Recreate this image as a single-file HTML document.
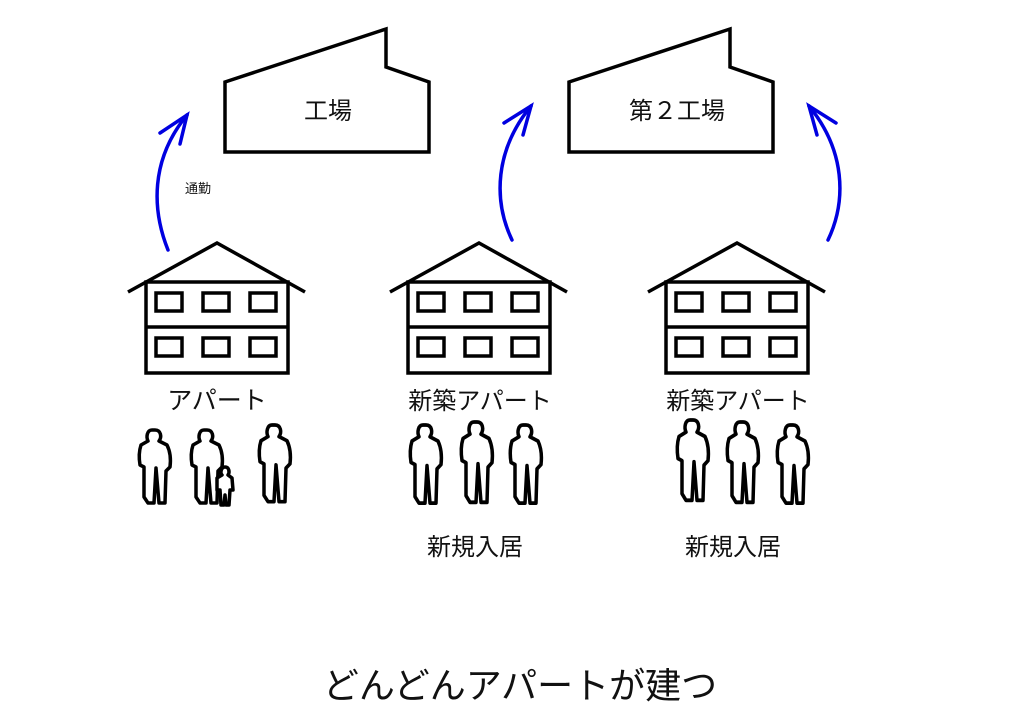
<!DOCTYPE html>
<html><head><meta charset="utf-8"><style>
html,body{margin:0;padding:0;background:#fff;}
svg{display:block}
text{font-family:"Liberation Sans","Noto Sans CJK JP",sans-serif;fill:#111}
</style></head><body>
<svg width="1024" height="724" viewBox="0 0 1024 724" xmlns="http://www.w3.org/2000/svg">
<defs>
<g id="house" fill="none" stroke="#000" stroke-width="3.5">
<polyline points="128,292 217,243 305,292"/>
<rect x="146" y="282" width="142" height="91" fill="#fff"/>
<line x1="146" y1="327" x2="288" y2="327"/>
<rect x="156" y="293" width="26" height="18"/><rect x="203" y="293" width="26" height="18"/><rect x="250" y="293" width="26" height="18"/>
<rect x="156" y="338" width="26" height="18"/><rect x="203" y="338" width="26" height="18"/><rect x="250" y="338" width="26" height="18"/>
</g>
<g id="factory">
<polygon points="225,82 386,29 386,67 429,82 429,152 225,152" fill="#fff" stroke="#000" stroke-width="3.5"/>
</g>
<g id="p" fill="#fff" stroke="#000" stroke-width="3.5" stroke-linejoin="round">
<path d="M0,0 c-5,0 -6,7 -4,11 l-7,4 c-2,6 -2,14 -1,20 l4,2 l0,30 l4,6 l6,0 l2,-35 l3,35 l6,0 l1,-32 l4,-4 c1,-8 0,-16 -3,-22 l-8,-4 c3,-4 2,-11 -4,-11z"/>
</g>
</defs>
<use href="#factory"/>
<use href="#factory" transform="translate(344,0)"/>
<text x="328" y="119" font-size="24" text-anchor="middle">工場</text>
<text x="677" y="119" font-size="24" text-anchor="middle">第２工場</text>
<g fill="none" stroke="#0000e0" stroke-width="3.5" stroke-linecap="round">
<path d="M168,250 C152,210 150,160 187,115"/><polyline points="160,133 187,115 180,144"/>
<path d="M512,240 C493,200 495,150 531,106"/><polyline points="504,123 531,106 523,135"/>
<path d="M828,240 C847,200 845,150 809,106"/><polyline points="836,123 809,106 817,135"/>
</g>
<text x="185" y="193" font-size="13">通勤</text>
<use href="#house"/>
<use href="#house" transform="translate(262,0)"/>
<use href="#house" transform="translate(520,0)"/>
<text x="217" y="409" font-size="25" text-anchor="middle">アパート</text>
<text x="480" y="409" font-size="24" text-anchor="middle">新築アパート</text>
<text x="738" y="409" font-size="24" text-anchor="middle">新築アパート</text>
<use href="#p" transform="translate(152,430)"/>
<use href="#p" transform="translate(204,430)"/>
<use href="#p" transform="translate(272,425) scale(1,1.05)"/>
<g fill="#fff" stroke="#000" stroke-width="3.5" stroke-linejoin="round"><path d="M225,467 c-4,0 -5,6 -3,8 l-5,3 l0,12 l3,0 l1,15 l3,0 l1,-10 l1,10 l3,0 l1,-15 l3,0 l-1,-12 l-4,-3 c2,-3 1,-8 -3,-8z"/></g>
<use href="#p" transform="translate(423,425) scale(1,1.07)"/>
<use href="#p" transform="translate(474,422) scale(1,1.1)"/>
<use href="#p" transform="translate(523,425) scale(1,1.07)"/>
<use href="#p" transform="translate(690,420) scale(1,1.1)"/>
<use href="#p" transform="translate(740,422) scale(1,1.1)"/>
<use href="#p" transform="translate(790,425) scale(1,1.07)"/>
<text x="475" y="555" font-size="24" text-anchor="middle">新規入居</text>
<text x="733" y="555" font-size="24" text-anchor="middle">新規入居</text>
<text x="520" y="698" font-size="36" text-anchor="middle">どんどんアパートが建つ</text>
</svg>
</body></html>
